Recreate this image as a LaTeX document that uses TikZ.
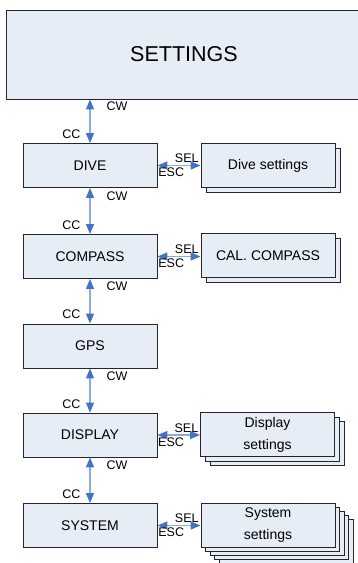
\documentclass[tikz,border=0pt]{standalone}
\usepackage{fontspec}
\setmainfont{Liberation Sans}
\usepackage{xcolor}
\usetikzlibrary{arrows.meta,shadows}

\definecolor{boxfill}{HTML}{E7EDF7}
\definecolor{tipblue}{HTML}{4472C4}
\definecolor{lineblue}{HTML}{8EAADB}

\tikzset{
  menubox/.style={draw=black!85,line width=0.9pt,fill=boxfill,
    minimum width=134pt,minimum height=44pt,inner sep=0pt,
    font=\fontsize{14}{22}\selectfont,align=center},
  subbox/.style={menubox},
  stackone/.style={copy shadow={shadow xshift=5pt,shadow yshift=-5pt}},
  stacktwo/.style={copy shadow={shadow xshift=10pt,shadow yshift=-9pt},
    copy shadow={shadow xshift=5pt,shadow yshift=-4.5pt}},
  stackfour/.style={copy shadow={shadow xshift=18pt,shadow yshift=-16pt},
    copy shadow={shadow xshift=13.5pt,shadow yshift=-12pt},
    copy shadow={shadow xshift=9pt,shadow yshift=-8pt},
    copy shadow={shadow xshift=4.5pt,shadow yshift=-4pt}},
  keylabel/.style={text=black,font=\fontsize{12.5}{12.5}\selectfont,inner sep=1pt},
  link/.style={lineblue,line width=1.2pt,
    {Triangle[length=10pt,width=8pt,color=tipblue]}-{Triangle[length=10pt,width=8pt,color=tipblue]}}
}

\begin{document}
\begin{tikzpicture}[x=1pt,y=-1pt]
  \useasboundingbox (0,0) rectangle (357,563);

  % main menu
  \node[menubox,minimum width=355pt,minimum height=89pt,
    font=\fontsize{21.5}{24}\selectfont] (settings) at (184,54.5) {SETTINGS};
  \node[menubox] (dive)    at (90,165.5) {DIVE};
  \node[menubox] (compass) at (90,256.5) {COMPASS};
  \node[menubox] (gps)     at (90,346)   {GPS};
  \node[menubox] (display) at (90,435)   {DISPLAY};
  \node[menubox] (system)  at (90,525.5) {SYSTEM};

  % sub menus
  \node[subbox,stackone]  (divesub)    at (268,165.5) {Dive settings};
  \node[subbox,stackone]  (compasssub) at (268,255.5) {CAL. COMPASS};
  \node[subbox,stacktwo]  (displaysub) at (267.5,434.5) {Display\\settings};
  \node[subbox,stackfour] (systemsub)  at (268,525) {System\\settings};

  % CW / CC steps
  \draw[link] (settings.south -| dive.north) --
    node[keylabel,pos=0.16,right=15pt] {CW}
    node[keylabel,pos=0.8,left=8pt] {CC} (dive.north);
  \draw[link] (dive.south) --
    node[keylabel,pos=0.17,right=15pt] {CW}
    node[keylabel,pos=0.8,left=8pt] {CC} (compass.north);
  \draw[link] (compass.south) --
    node[keylabel,pos=0.17,right=15pt] {CW}
    node[keylabel,pos=0.8,left=8pt] {CC} (gps.north);
  \draw[link] (gps.south) --
    node[keylabel,pos=0.17,right=15pt] {CW}
    node[keylabel,pos=0.8,left=8pt] {CC} (display.north);
  \draw[link] (display.south) --
    node[keylabel,pos=0.17,right=15pt] {CW}
    node[keylabel,pos=0.8,left=8pt] {CC} (system.north);

  % SEL / ESC
  \draw[link] (dive.east) --
    node[keylabel,pos=0.68,above=1pt] {SEL}
    node[keylabel,pos=0.32,below=1pt] {ESC} (dive.east -| divesub.west);
  \draw[link] (compass.east) --
    node[keylabel,pos=0.68,above=1pt] {SEL}
    node[keylabel,pos=0.32,below=1pt] {ESC} (compass.east -| compasssub.west);
  \draw[link] (display.east) --
    node[keylabel,pos=0.68,above=1pt] {SEL}
    node[keylabel,pos=0.32,below=1pt] {ESC} (display.east -| displaysub.west);
  \draw[link] (system.east) --
    node[keylabel,pos=0.68,above=1pt] {SEL}
    node[keylabel,pos=0.32,below=1pt] {ESC} (system.east -| systemsub.west);
\end{tikzpicture}
\end{document}
